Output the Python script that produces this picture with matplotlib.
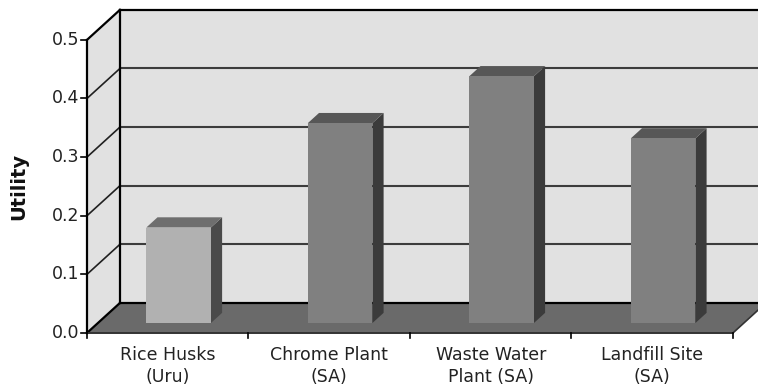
import matplotlib
matplotlib.use("Agg")
import matplotlib.pyplot as plt
from matplotlib.patches import Polygon

# utility of each site
categories = ["Rice Husks\n(Uru)", "Chrome Plant\n(SA)", "Waste Water\nPlant (SA)", "Landfill Site\n(SA)"]
utility = [0.163, 0.341, 0.421, 0.315]
y_ticks = [0.0, 0.1, 0.2, 0.3, 0.4, 0.5]
y_tick_labels = ["0.0", "0.1", "0.2", "0.3", "0.4", "0.5"]

# fake 3d: full depth shifts a point right (in category units) and up (in utility units)
DX = 0.204
DY = 0.0512
BAR_FRONT = 0.33
BAR_BACK = 0.67
BAR_W = 0.4


def proj(x, y, d):
    return (x + d * DX, y + d * DY)


fig = plt.figure(figsize=(7.58, 3.87), dpi=100)
ax = fig.add_axes([0, 0, 1, 1])
ax.set_xlim(-0.5387, 4.155)
ax.set_ylim(-0.0922, 0.568)
ax.axis("off")

n = len(categories)
ymax = y_ticks[-1]
wall = "#e1e1e1"
edge = "black"

# back wall and left wall
ax.add_patch(Polygon([proj(0, 0, 1), proj(n, 0, 1), proj(n, ymax, 1), proj(0, ymax, 1)],
                     closed=True, facecolor=wall, edgecolor="none", zorder=1))
ax.add_patch(Polygon([proj(0, 0, 0), proj(0, 0, 1), proj(0, ymax, 1), proj(0, ymax, 0)],
                     closed=True, facecolor=wall, edgecolor="none", zorder=1))

# gridlines on back and left walls
for t in y_ticks[1:-1]:
    x0, y0 = proj(0, t, 1)
    x1, y1 = proj(n, t, 1)
    ax.plot([x0, x1], [y0, y1], color="#3c3c3c", lw=1.5, zorder=2)
    xa, ya = proj(0, t, 0)
    ax.plot([xa, x0], [ya, y0], color="#202020", lw=1.2, zorder=2)

# floor
ax.add_patch(Polygon([proj(0, 0, 0), proj(n, 0, 0), proj(n, 0, 1), proj(0, 0, 1)],
                     closed=True, facecolor="#6a6a6a", edgecolor="none", zorder=2))

# frame lines
frame = [
    [proj(0, 0, 0), proj(0, ymax, 0)],
    [proj(0, 0, 1), proj(0, ymax, 1)],
    [proj(0, ymax, 0), proj(0, ymax, 1)],
    [proj(0, ymax, 1), proj(n, ymax, 1)],
    [proj(0, 0, 0), proj(0, 0, 1)],
    [proj(0, 0, 1), proj(n, 0, 1)],
]
for (p0, p1) in frame:
    ax.plot([p0[0], p1[0]], [p0[1], p1[1]], color=edge, lw=1.6, zorder=3)
p0, p1 = proj(0, 0, 0), proj(n, 0, 0)
ax.plot([p0[0], p1[0]], [p0[1], p1[1]], color="#333333", lw=1.4, zorder=3)
p2 = proj(n, 0, 1)
ax.plot([p1[0], p2[0]], [p1[1], p2[1]], color="#333333", lw=1.2, zorder=3)

# bars
bar_colors = [("#b1b1b1", "#6e6e6e", "#4a4a4a")] + [("#808080", "#575757", "#3b3b3b")] * (n - 1)
for i, (v, (c_front, c_top, c_side)) in enumerate(zip(utility, bar_colors)):
    xl = i + 0.5 - BAR_W / 2
    xr = i + 0.5 + BAR_W / 2
    front = [proj(xl, 0, BAR_FRONT), proj(xr, 0, BAR_FRONT), proj(xr, v, BAR_FRONT), proj(xl, v, BAR_FRONT)]
    top = [proj(xl, v, BAR_FRONT), proj(xr, v, BAR_FRONT), proj(xr, v, BAR_BACK), proj(xl, v, BAR_BACK)]
    side = [proj(xr, 0, BAR_FRONT), proj(xr, 0, BAR_BACK), proj(xr, v, BAR_BACK), proj(xr, v, BAR_FRONT)]
    ax.add_patch(Polygon(side, closed=True, facecolor=c_side, edgecolor="none", zorder=4))
    ax.add_patch(Polygon(top, closed=True, facecolor=c_top, edgecolor="none", zorder=4))
    ax.add_patch(Polygon(front, closed=True, facecolor=c_front, edgecolor="none", zorder=5))

# y ticks and labels
tick_dx = 0.035
for t, lab in zip(y_ticks, y_tick_labels):
    ax.plot([-tick_dx, 0], [t, t], color=edge, lw=1.2, zorder=3)
    ax.text(-tick_dx - 0.012, t, lab, ha="right", va="center", fontsize=12.5, color="#222222")

# x ticks and labels
for i in range(n + 1):
    ax.plot([i, i], [0, -0.009], color=edge, lw=1.2, zorder=3)
for i, lab in enumerate(categories):
    ax.text(i + 0.5, -0.022, lab, ha="center", va="top", fontsize=12.5, color="#222222",
            linespacing=1.32)

ax.text(-0.42, 0.25, "Utility", rotation=90, ha="center", va="center",
        fontsize=14, fontweight="bold", color="#111111")

fig.savefig("out.png", dpi=100)
